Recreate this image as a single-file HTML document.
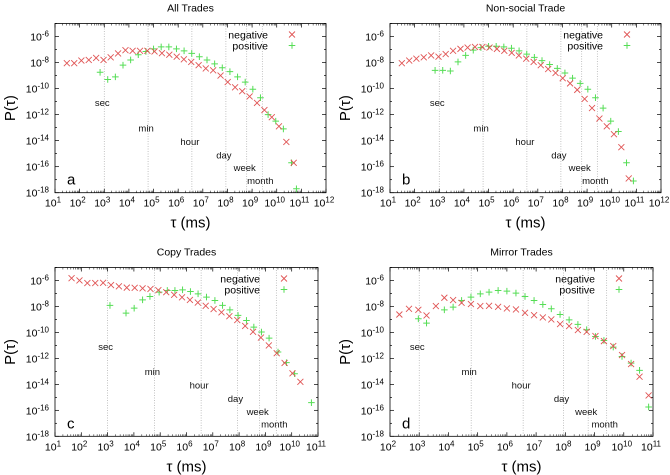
<!DOCTYPE html>
<html><head><meta charset="utf-8"><style>
html,body{margin:0;padding:0;background:#fff;}
svg{display:block;font-family:"Liberation Sans",sans-serif;}
</style></head><body>
<svg id="fig" width="670" height="475" viewBox="0 0 670 475"></svg>
<script>
// Panel a: All Trades
const aNegX=[1.48,1.78,2.07,2.37,2.67,2.97,3.26,3.56,3.86,4.15,4.45,4.75,5.04,5.34,5.64,5.94,6.23,6.53,6.83,7.12,7.42,7.72,8.01,8.31,8.6,8.9,9.2,9.5,9.8,10.09,10.39,10.69];
const aNegY=[-8.05,-8.05,-7.85,-7.8,-7.65,-7.8,-7.6,-7.3,-7.05,-7.1,-7.1,-7.1,-7.15,-7.28,-7.4,-7.55,-7.75,-7.95,-8.2,-8.45,-8.6,-9.0,-9.5,-9.9,-10.2,-10.6,-11.1,-11.65,-12.2,-12.9,-14.1,-15.7];
const aPosX=[2.83,3.14,3.45,3.76,4.07,4.38,4.69,5.0,5.31,5.62,5.93,6.24,6.55,6.86,7.17,7.48,7.79,8.1,8.41,8.72,9.03,9.34,9.65,9.96,10.27,10.6,10.8];
const aPosY=[-8.75,-9.3,-9.1,-8.2,-7.8,-7.4,-7.15,-6.95,-6.8,-6.8,-6.95,-7.1,-7.3,-7.55,-7.8,-8.1,-8.4,-8.7,-9.1,-9.5,-10.05,-10.7,-12.0,-12.5,-13.1,-15.7,-17.7];
// Panel b: Non-social Trade
const bNegX=[1.48,1.78,2.07,2.37,2.67,2.97,3.26,3.56,3.86,4.15,4.45,4.75,5.04,5.34,5.64,5.94,6.23,6.53,6.83,7.12,7.42,7.72,8.01,8.31,8.6,8.9,9.2,9.5,9.8,10.09,10.39,10.69];
const bNegY=[-8.05,-7.85,-7.7,-7.6,-7.45,-7.55,-7.35,-7.1,-6.95,-6.85,-6.8,-6.8,-6.85,-6.95,-7.1,-7.25,-7.45,-7.7,-7.95,-8.2,-8.5,-8.8,-9.2,-9.6,-10.1,-10.8,-11.5,-12.3,-12.9,-13.5,-14.5,-16.9];
const bPosX=[2.83,3.14,3.45,3.76,4.07,4.38,4.69,5.0,5.31,5.62,5.93,6.24,6.55,6.86,7.17,7.48,7.79,8.1,8.41,8.72,9.03,9.34,9.65,9.96,10.27,10.6,10.88];
const bPosY=[-8.6,-8.6,-8.65,-7.95,-7.45,-7.05,-6.85,-6.75,-6.75,-6.8,-6.9,-7.1,-7.35,-7.6,-7.85,-8.15,-8.45,-8.8,-9.2,-9.6,-10.05,-10.7,-11.5,-12.5,-13.3,-15.7,-17.1];
// Panel c: Copy Trades
const cNegX=[1.63,1.93,2.23,2.53,2.83,3.13,3.43,3.73,4.03,4.33,4.63,4.93,5.23,5.53,5.83,6.13,6.43,6.73,7.03,7.33,7.63,7.93,8.23,8.53,8.83,9.13,9.43,9.73,10.03,10.33];
const cNegY=[-5.82,-6.0,-6.2,-6.2,-6.18,-6.35,-6.45,-6.55,-6.56,-6.6,-6.65,-6.75,-6.9,-7.1,-7.3,-7.5,-7.7,-7.95,-8.2,-8.45,-8.75,-9.05,-9.5,-9.95,-10.4,-11.0,-11.6,-12.35,-13.15,-13.8];
const cPosX=[3.09,3.70,4.01,4.33,4.61,4.96,5.27,5.56,5.85,6.15,6.44,6.76,7.08,7.37,7.65,7.96,8.28,8.56,8.85,9.14,9.48,9.80,10.11,10.75];
const cPosY=[-7.92,-8.51,-8.13,-7.49,-7.23,-6.9,-6.77,-6.77,-6.72,-6.85,-7.03,-7.28,-7.54,-7.92,-8.26,-8.69,-9.08,-9.59,-9.97,-10.44,-11.51,-12.33,-13.18,-15.41];
// Panel d: Mirror Trades
const dNegX=[2.32,2.65,2.97,3.25,3.57,3.86,4.16,4.45,4.77,5.09,5.39,5.70,6.0,6.31,6.62,6.93,7.23,7.52,7.82,8.13,8.43,8.73,9.03,9.32,9.64,9.94,10.25,10.54,10.85];
const dNegY=[-8.62,-8.18,-8.26,-8.69,-7.97,-7.33,-7.51,-7.72,-7.82,-7.97,-7.95,-8.03,-8.15,-8.23,-8.49,-8.67,-8.85,-9.0,-9.36,-9.51,-9.82,-9.95,-10.28,-10.67,-11.05,-11.74,-12.44,-13.41,-14.85];
const dPosX=[2.97,3.25,3.86,4.16,4.45,4.77,5.09,5.39,5.70,6.0,6.31,6.62,6.93,7.23,7.52,7.82,8.13,8.43,8.73,9.03,9.32,9.64,9.94,10.25,10.54,10.85];
const dPosY=[-8.95,-9.28,-8.26,-8.05,-7.54,-7.28,-7.03,-6.9,-6.77,-6.82,-6.97,-7.23,-7.54,-7.85,-8.18,-8.62,-9.03,-9.38,-9.79,-10.31,-10.62,-11.13,-11.85,-12.36,-12.92,-15.74];
const yTicks=[-6,-8,-10,-12,-14,-16,-18];
const timeNames=["sec","min","hour","day","week","month"];
const timeMs=[1e3,6e4,3.6e6,8.64e7,6.048e8,2.6e9];
const timeFrac=[0.47,0.62,0.70,0.78,0.855,0.93];

const NS="http://www.w3.org/2000/svg";
const svg=document.getElementById('fig');
function mk(tag,attrs,parent){const e=document.createElementNS(NS,tag);for(const k in attrs)e.setAttribute(k,attrs[k]);(parent||svg).appendChild(e);return e;}

const panels=[
 {id:'a',title:'All Trades',L:55,R:326,T:23.5,B:192.7,x0:1,x1:12,nx:aNegX,ny:aNegY,px:aPosX,py:aPosY},
 {id:'b',title:'Non-social Trade',L:390,R:661,T:23.5,B:192.7,x0:1,x1:12,nx:bNegX,ny:bNegY,px:bPosX,py:bPosY},
 {id:'c',title:'Copy Trades',L:55,R:318,T:267.5,B:436.3,x0:1,x1:11,nx:cNegX,ny:cNegY,px:cPosX,py:cPosY},
 {id:'d',title:'Mirror Trades',L:390,R:653,T:267.5,B:436.3,x0:2,x1:11,nx:dNegX,ny:dNegY,px:dPosX,py:dPosY}
];
panels.forEach(p=>{
 const g=mk('g',{});
 
 
 const sx=v=>p.L+(v-p.x0)/(p.x1-p.x0)*(p.R-p.L);
 const sy=v=>p.T+(-5-v)/13*(p.B-p.T);
 timeMs.forEach((ms,i)=>{
  const x=sx(Math.log10(ms));
  const ln=mk('line',{x1:x,x2:x,y1:p.T,y2:p.B,stroke:'#aaa','stroke-width':0.7,'stroke-dasharray':'1,1.5'},g);
  
  
  const t=mk('text',{x:x-2,y:p.T+timeFrac[i]*(p.B-p.T)+3,'font-size':9.5,'text-anchor':'middle',fill:'#111'},g);
  t.textContent=timeNames[i];
  
  
 });
 const fr=mk('rect',{x:p.L,y:p.T,width:p.R-p.L,height:p.B-p.T,fill:'none',stroke:'#000','stroke-width':0.8},g);
 
 
 for(let d=p.x0;d<=p.x1;d++){
  const x=sx(d);
  mk('line',{x1:x,x2:x,y1:p.B,y2:p.B-4,stroke:'#000','stroke-width':0.7},g);
  mk('line',{x1:x,x2:x,y1:p.T,y2:p.T+4,stroke:'#000','stroke-width':0.7},g);
  if(d<p.x1){for(let m=2;m<10;m++){const xm=sx(d+Math.log10(m));
   mk('line',{x1:xm,x2:xm,y1:p.B,y2:p.B-2,stroke:'#000','stroke-width':0.5},g);
   mk('line',{x1:xm,x2:xm,y1:p.T,y2:p.T+2,stroke:'#000','stroke-width':0.5},g);}}
  const t=mk('text',{x:x-2,y:p.B+14,'font-size':10.5,'text-anchor':'middle',fill:'#000'},g);
  t.innerHTML='10<tspan dy="-4" font-size="8">'+d+'</tspan>';
  
  
 }
 for(let v=-5;v>=-18;v--){const y=sy(v);const len=(v%2===0)?4:2;
  mk('line',{x1:p.L,x2:p.L+len,y1:y,y2:y,stroke:'#000','stroke-width':0.7},g);
  mk('line',{x1:p.R,x2:p.R-len,y1:y,y2:y,stroke:'#000','stroke-width':0.7},g);}
 yTicks.forEach(v=>{const y=sy(v);
  const t=mk('text',{x:p.L-6,y:y+4,'font-size':10.5,'text-anchor':'end',fill:'#000'},g);
  t.innerHTML='10<tspan dy="-4" font-size="8">'+v+'</tspan>';
  
  
 });
 const tt=mk('text',{x:(p.L+p.R)/2,y:p.T-12,'font-size':10.5,'text-anchor':'middle',fill:'#000'},g);
 tt.textContent=p.title;
 
 
 const xl=mk('text',{x:(p.L+p.R)/2,y:p.B+35,'font-size':15,'text-anchor':'middle',fill:'#000'},g);
 xl.textContent='τ (ms)';
 
 
 const yc=(p.T+p.B)/2, yx=p.L-40;
 const yl=mk('text',{x:yx,y:yc,'font-size':15,'text-anchor':'middle',fill:'#000',transform:'rotate(-90 '+yx+' '+yc+')'},g);
 yl.textContent='P(τ)';
 
 
 const lt=mk('text',{x:p.L+12,y:p.B-8,'font-size':15,fill:'#000'},g);
 lt.textContent=p.id;
 
 
 const lx=p.R-58, ly=p.T+11;
 const l1=mk('text',{x:lx,y:ly+4,'font-size':10.5,'text-anchor':'end',fill:'#000'},g);
 l1.textContent='negative';
 
 
 const l2=mk('text',{x:lx,y:ly+15,'font-size':10.5,'text-anchor':'end',fill:'#000'},g);
 l2.textContent='positive';
 
 
 const cross=(x,y,parent)=>{const s=3;return mk('path',{d:`M${x-s},${y-s}L${x+s},${y+s}M${x-s},${y+s}L${x+s},${y-s}`,stroke:'#e05555','stroke-width':0.9,fill:'none'},parent);};
 const plus=(x,y,parent)=>{const s=3.3;return mk('path',{d:`M${x-s},${y}L${x+s},${y}M${x},${y-s}L${x},${y+s}`,stroke:'#55dd55','stroke-width':1,fill:'none'},parent);};
 const lm1=cross(p.R-34,ly,g);
 
 
 const lm2=plus(p.R-34,ly+11,g);
 
 
 p.px.forEach((v,i)=>{const m=plus(sx(v),sy(p.py[i]),g);
  
  });
 p.nx.forEach((v,i)=>{const m=cross(sx(v),sy(p.ny[i]),g);
  
  });
});
</script>
</body></html>
